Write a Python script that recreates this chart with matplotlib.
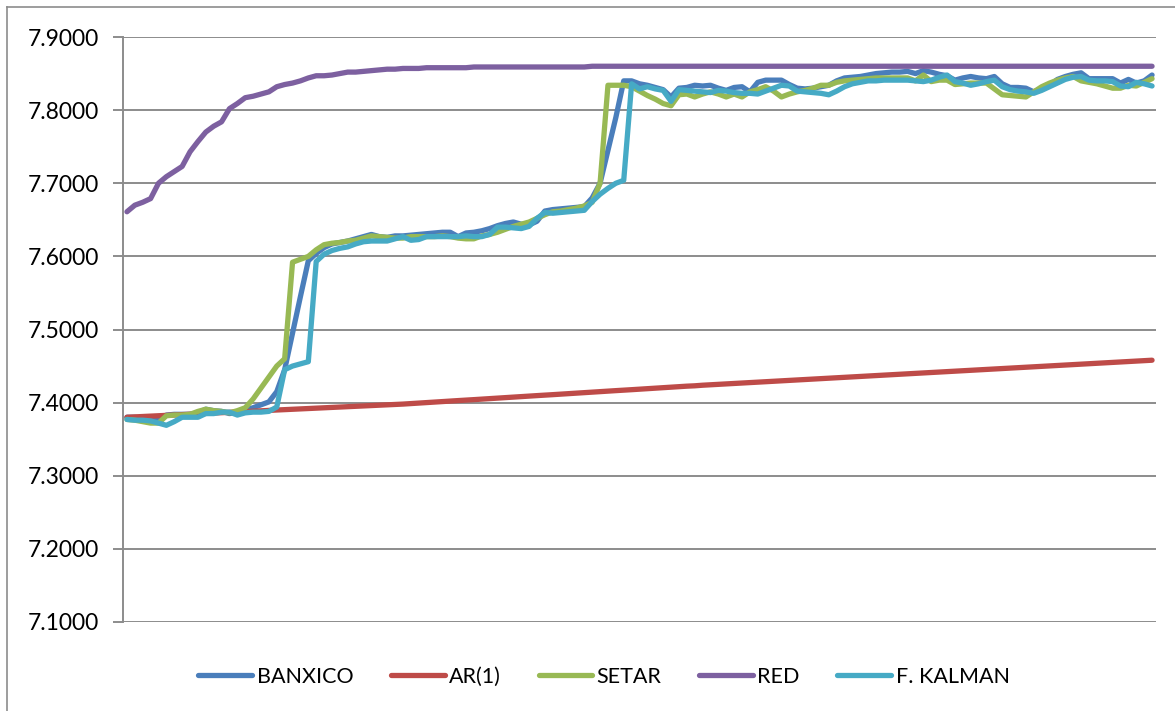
import matplotlib
matplotlib.use('Agg')
import matplotlib.pyplot as plt
from matplotlib.lines import Line2D
import numpy as np

plt.rcParams['font.family'] = ['Lato', 'DejaVu Sans']

series_names = ['BANXICO', 'AR(1)', 'SETAR', 'RED', 'F. KALMAN']
colors = ['#4A7EBB', '#BE4B48', '#98B954', '#7D60A0', '#46AAC5']
y_ticks = [7.1, 7.2, 7.3, 7.4, 7.5, 7.6, 7.7, 7.8, 7.9]

banxico = [
    7.380, 7.380, 7.379, 7.378, 7.376, 7.383, 7.384, 7.384, 7.384, 7.386,
    7.391, 7.389, 7.388, 7.385, 7.387, 7.390, 7.393, 7.397, 7.401, 7.415,
    7.445, 7.495, 7.545, 7.594, 7.604, 7.612, 7.617, 7.619, 7.621, 7.624,
    7.627, 7.630, 7.627, 7.626, 7.628, 7.628, 7.629, 7.630, 7.631, 7.632,
    7.633, 7.633, 7.627, 7.632, 7.633, 7.635, 7.638, 7.642, 7.645, 7.647,
    7.644, 7.643, 7.648, 7.662, 7.664, 7.665, 7.666, 7.667, 7.668, 7.680,
    7.700, 7.745, 7.790, 7.840, 7.840, 7.836, 7.834, 7.831, 7.828, 7.818,
    7.830, 7.831, 7.834, 7.833, 7.834, 7.830, 7.827, 7.831, 7.832, 7.825,
    7.838, 7.841, 7.841, 7.841, 7.835, 7.830, 7.829, 7.830, 7.832, 7.834,
    7.840, 7.844, 7.845, 7.846, 7.848, 7.850, 7.851, 7.852, 7.852, 7.853,
    7.850, 7.854, 7.852, 7.849, 7.847, 7.841, 7.844, 7.846, 7.844, 7.843,
    7.846, 7.836, 7.831, 7.831, 7.830, 7.825, 7.830, 7.834, 7.842, 7.846,
    7.849, 7.851, 7.843, 7.843, 7.843, 7.843, 7.837, 7.842, 7.837, 7.840,
    7.848,
]

ar1 = [
    7.3800, 7.3805, 7.3810, 7.3816, 7.3821, 7.3826, 7.3831, 7.3836, 7.3842, 7.3847,
    7.3852, 7.3857, 7.3862, 7.3868, 7.3873, 7.3878, 7.3883, 7.3888, 7.3894, 7.3899,
    7.3904, 7.3909, 7.3914, 7.3920, 7.3925, 7.3930, 7.3935, 7.3940, 7.3945, 7.3950,
    7.3955, 7.3960, 7.3965, 7.3970, 7.3975, 7.3980, 7.3987, 7.3994, 7.4000, 7.4007,
    7.4014, 7.4021, 7.4028, 7.4034, 7.4041, 7.4048, 7.4055, 7.4062, 7.4068, 7.4075,
    7.4082, 7.4089, 7.4096, 7.4102, 7.4109, 7.4116, 7.4123, 7.4130, 7.4136, 7.4143,
    7.4150, 7.4157, 7.4164, 7.4170, 7.4177, 7.4184, 7.4191, 7.4198, 7.4204, 7.4211,
    7.4218, 7.4225, 7.4230, 7.4238, 7.4244, 7.4250, 7.4256, 7.4262, 7.4268, 7.4274,
    7.4280, 7.4286, 7.4292, 7.4298, 7.4304, 7.4310, 7.4316, 7.4322, 7.4328, 7.4334,
    7.4340, 7.4346, 7.4352, 7.4358, 7.4364, 7.4370, 7.4376, 7.4382, 7.4388, 7.4394,
    7.4400, 7.4406, 7.4412, 7.4418, 7.4424, 7.4430, 7.4436, 7.4442, 7.4448, 7.4454,
    7.4460, 7.4466, 7.4472, 7.4478, 7.4484, 7.4490, 7.4496, 7.4502, 7.4508, 7.4514,
    7.4520, 7.4526, 7.4532, 7.4538, 7.4544, 7.4550, 7.4556, 7.4562, 7.4568, 7.4574,
    7.4580,
]

setar = [
    7.377, 7.376, 7.374, 7.372, 7.372, 7.382, 7.383, 7.383, 7.384, 7.388,
    7.391, 7.389, 7.388, 7.386, 7.389, 7.393, 7.405, 7.420, 7.435, 7.450,
    7.460, 7.592, 7.596, 7.600, 7.609, 7.616, 7.618, 7.619, 7.621, 7.622,
    7.625, 7.628, 7.627, 7.626, 7.625, 7.625, 7.627, 7.627, 7.627, 7.627,
    7.628, 7.627, 7.625, 7.624, 7.624, 7.628, 7.630, 7.633, 7.637, 7.641,
    7.644, 7.647, 7.652, 7.657, 7.661, 7.662, 7.664, 7.666, 7.669, 7.674,
    7.700, 7.834, 7.834, 7.834, 7.832, 7.826, 7.820, 7.815, 7.809, 7.806,
    7.821, 7.822, 7.818, 7.822, 7.825, 7.822, 7.818, 7.822, 7.818, 7.825,
    7.828, 7.832, 7.826, 7.818, 7.822, 7.825, 7.827, 7.830, 7.834, 7.834,
    7.838, 7.840, 7.841, 7.842, 7.843, 7.844, 7.844, 7.844, 7.844, 7.844,
    7.840, 7.848, 7.839, 7.841, 7.841, 7.835, 7.836, 7.837, 7.837, 7.837,
    7.829, 7.821, 7.820, 7.819, 7.818, 7.825, 7.832, 7.837, 7.841, 7.844,
    7.846, 7.840, 7.838, 7.836, 7.833, 7.830, 7.830, 7.834, 7.833, 7.838,
    7.843,
]

red = [
    7.661, 7.670, 7.674, 7.679, 7.700, 7.709, 7.716, 7.723, 7.743, 7.757,
    7.770, 7.778, 7.784, 7.802, 7.809, 7.817, 7.819, 7.822, 7.825, 7.832,
    7.835, 7.837, 7.840, 7.844, 7.847, 7.847, 7.848, 7.850, 7.852, 7.852,
    7.853, 7.854, 7.855, 7.856, 7.856, 7.857, 7.857, 7.857, 7.858, 7.858,
    7.858, 7.858, 7.858, 7.858, 7.859, 7.859, 7.859, 7.859, 7.859, 7.859,
    7.859, 7.859, 7.859, 7.859, 7.859, 7.859, 7.859, 7.859, 7.859, 7.860,
    7.860, 7.860, 7.860, 7.860, 7.860, 7.860, 7.860, 7.860, 7.860, 7.860,
    7.860, 7.860, 7.860, 7.860, 7.860, 7.860, 7.860, 7.860, 7.860, 7.860,
    7.860, 7.860, 7.860, 7.860, 7.860, 7.860, 7.860, 7.860, 7.860, 7.860,
    7.860, 7.860, 7.860, 7.860, 7.860, 7.860, 7.860, 7.860, 7.860, 7.860,
    7.860, 7.860, 7.860, 7.860, 7.860, 7.860, 7.860, 7.860, 7.860, 7.860,
    7.860, 7.860, 7.860, 7.860, 7.860, 7.860, 7.860, 7.860, 7.860, 7.860,
    7.860, 7.860, 7.860, 7.860, 7.860, 7.860, 7.860, 7.860, 7.860, 7.860,
    7.860,
]

kalman = [
    7.377, 7.376, 7.376, 7.375, 7.372, 7.369, 7.374, 7.380, 7.380, 7.380,
    7.385, 7.385, 7.387, 7.387, 7.383, 7.386, 7.387, 7.387, 7.388, 7.394,
    7.445, 7.450, 7.453, 7.456, 7.593, 7.603, 7.608, 7.611, 7.613, 7.617,
    7.620, 7.621, 7.621, 7.621, 7.624, 7.627, 7.622, 7.623, 7.627, 7.627,
    7.627, 7.627, 7.627, 7.628, 7.627, 7.627, 7.630, 7.640, 7.640, 7.639,
    7.638, 7.641, 7.652, 7.660, 7.659, 7.660, 7.661, 7.662, 7.663, 7.675,
    7.685, 7.693, 7.700, 7.704, 7.836, 7.829, 7.832, 7.829, 7.827, 7.812,
    7.828, 7.827, 7.826, 7.825, 7.824, 7.827, 7.826, 7.824, 7.823, 7.823,
    7.822, 7.826, 7.830, 7.834, 7.833, 7.826, 7.825, 7.824, 7.823, 7.821,
    7.826, 7.832, 7.836, 7.838, 7.840, 7.840, 7.841, 7.841, 7.841, 7.841,
    7.840, 7.839, 7.841, 7.845, 7.848, 7.839, 7.837, 7.834, 7.836, 7.839,
    7.841, 7.832, 7.828, 7.826, 7.825, 7.823, 7.827, 7.832, 7.837, 7.842,
    7.845, 7.846, 7.841, 7.840, 7.840, 7.839, 7.833, 7.832, 7.838, 7.836,
    7.833,
]

all_series = [banxico, ar1, setar, red, kalman]

W, H = 1175, 711
fig = plt.figure(figsize=(W / 100, H / 100), dpi=100)
ax = fig.add_axes([123 / W, 1 - 622 / H, (1156 - 123) / W, (622 - 37) / H])

n = len(banxico)
x = np.arange(n)
for vals, name, c in zip(all_series, series_names, colors):
    ax.plot(x, vals, color=c, lw=3.8, label=name,
            solid_capstyle='round', solid_joinstyle='round')

ax.set_xlim(-0.5, n - 0.5)
ax.set_ylim(7.1, 7.9)
ax.set_yticks(y_ticks)
ax.set_yticklabels([f'{v:.4f}' for v in y_ticks])
ax.set_xticks([])
ax.grid(axis='y', color='#8C8C8C', lw=1.4)
ax.set_axisbelow(True)
for s in ['top', 'right', 'bottom']:
    ax.spines[s].set_visible(False)
ax.spines['left'].set_color('#8C8C8C')
ax.spines['left'].set_linewidth(1.4)
ax.tick_params(axis='y', length=7, width=1.4, color='#8C8C8C',
               labelsize=16.5, pad=10, labelcolor='black')

# outer chart border (only left and top visible in the crop)
fig.add_artist(Line2D([7 / W, 7 / W], [0, 1 - 7 / H], color='#8C8C8C', lw=1.2))
fig.add_artist(Line2D([7 / W, 1], [1 - 7 / H, 1 - 7 / H], color='#8C8C8C', lw=1.2))

fig.legend(loc='center', bbox_to_anchor=(604 / W, 1 - 677 / H), ncol=5,
           frameon=False, fontsize=15.5, handlelength=2.5, handletextpad=0.2,
           columnspacing=1.75)

plt.savefig('out.png', dpi=100)
plt.close()
